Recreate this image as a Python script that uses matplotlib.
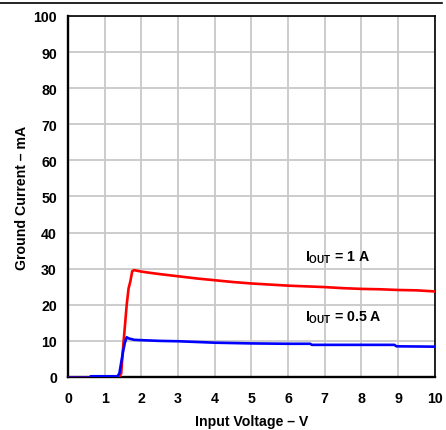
import matplotlib
matplotlib.use('Agg')
import matplotlib.pyplot as plt
from matplotlib.lines import Line2D

plt.rcParams['font.family'] = ['Liberation Sans', 'DejaVu Sans']
plt.rcParams['mathtext.fontset'] = 'custom'
plt.rcParams['mathtext.rm'] = 'Liberation Sans:bold'
plt.rcParams['mathtext.it'] = 'Liberation Sans:bold'
plt.rcParams['mathtext.bf'] = 'Liberation Sans:bold'

# ground current vs input voltage
v_1a = [0, 0.6, 0.62, 1.4, 1.45, 1.5, 1.55, 1.6, 1.65, 1.7, 1.75, 1.8, 2.0, 2.2, 2.5,
        3.0, 3.5, 4.0, 4.5, 5.0, 5.5, 6.0, 6.5, 7.0, 7.5, 8.0, 8.5, 9.0, 9.5, 10.0]
i_1a = [-0.2, -0.2, 0.1, 0.1, 1.0, 8.0, 14.0, 20.0, 24.5, 26.5, 29.3, 29.6, 29.2, 28.9, 28.5,
        27.9, 27.3, 26.8, 26.3, 25.9, 25.6, 25.3, 25.1, 24.9, 24.6, 24.4, 24.3, 24.1, 24.0, 23.7]

v_05a = [0, 0.6, 0.62, 1.35, 1.4, 1.45, 1.5, 1.55, 1.6, 1.65, 1.8, 2.0, 2.5, 3.0, 3.5,
         4.0, 5.0, 6.0, 6.6, 6.65, 8.9, 8.95, 10.0]
i_05a = [-0.2, -0.2, 0.2, 0.2, 1.0, 4.0, 7.0, 9.5, 11.0, 10.7, 10.3, 10.2, 10.0, 9.9, 9.7,
         9.5, 9.3, 9.2, 9.2, 8.9, 8.9, 8.5, 8.4]

xticks = list(range(0, 11))
yticks = list(range(0, 101, 10))

fig = plt.figure(figsize=(4.46, 4.31), dpi=100)
ax = fig.add_axes([0.1525, 0.123, 0.8225, 0.8376])

ax.plot(v_1a, i_1a, color='#ff0000', lw=1.9, zorder=3)
ax.plot(v_05a, i_05a, color='#0000ff', lw=1.9, zorder=4)

ax.set_xlim(0, 10)
ax.set_ylim(0, 100)
ax.set_xticks(xticks)
ax.set_yticks(yticks)
ax.grid(True, color='#c8c8c8', lw=1.3)
ax.set_axisbelow(True)
ax.tick_params(length=0, labelsize=10.2)
ax.tick_params(axis='x', pad=10)
ax.tick_params(axis='y', pad=8)
for lab in ax.get_xticklabels() + ax.get_yticklabels():
    lab.set_fontweight('bold')

for side in ['left', 'bottom']:
    ax.spines[side].set_linewidth(1.7)
for side in ['top', 'right']:
    ax.spines[side].set_linewidth(1.2)

ax.set_xlabel('Input Voltage – V', fontsize=10.2, fontweight='bold', labelpad=6.5)
ax.set_ylabel('Ground Current – mA', fontsize=10.2, fontweight='bold', labelpad=3)

ax.text(6.45, 33.2, r'$I_{OUT}$ = 1 A', fontsize=10.2, fontweight='bold', va='center')
ax.text(6.45, 16.6, r'$I_{OUT}$ = 0.5 A', fontsize=10.2, fontweight='bold', va='center')

fig.add_artist(Line2D([0, 0.99], [0.99, 0.99], color='black', lw=1.2, transform=fig.transFigure))

fig.savefig('out.png', dpi=100)
